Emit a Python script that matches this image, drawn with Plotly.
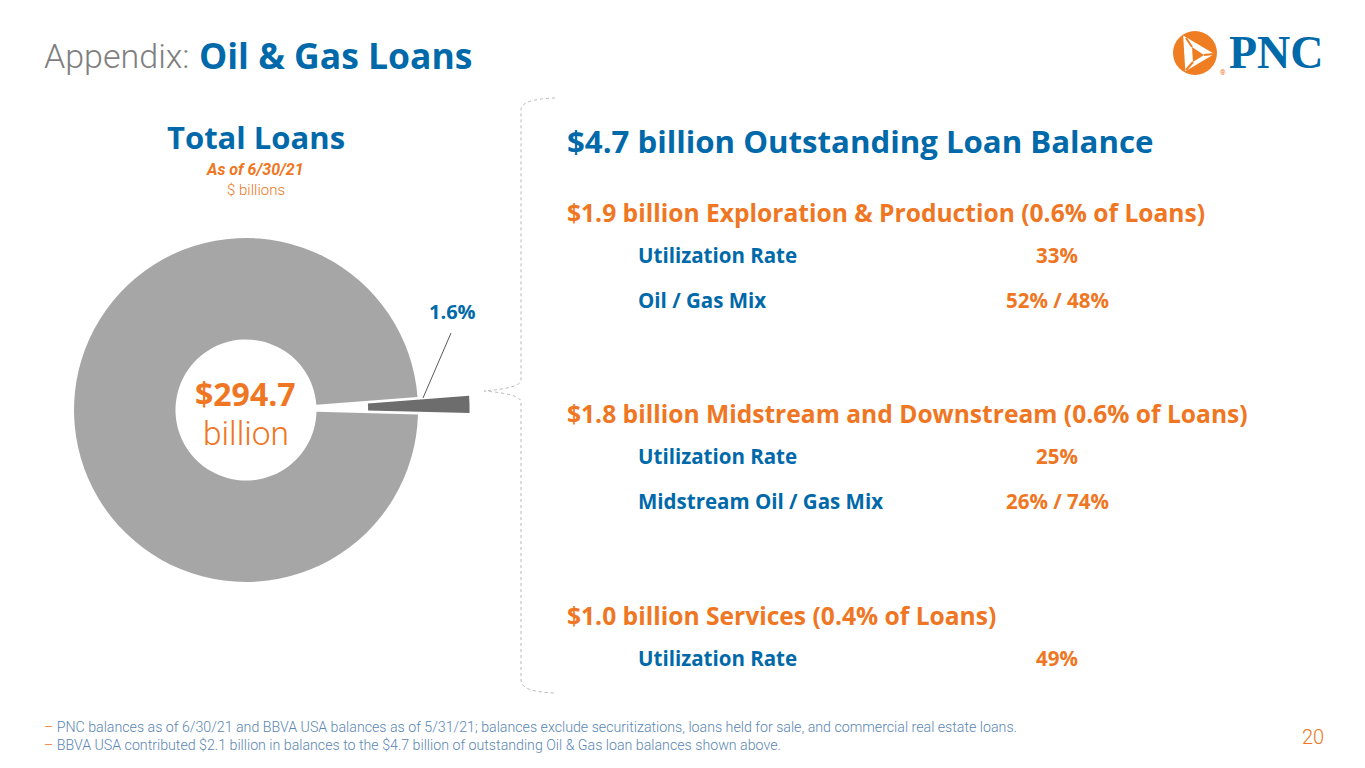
import plotly.graph_objects as go

W, H = 1365, 768

# ---- data ----
slice_labels = ["Oil & Gas Loans", "Other Loans"]
slice_values = [1.6, 98.4]          # % of total loans
slice_colors = ["#6d6d6d", "#a6a6a6"]
slice_pull = [0.3, 0.0]
total_loans_text = "$294.7"
slice_label_text = "1.6%"

segment_headers = [
    "$1.9 billion Exploration & Production (0.6% of Loans)",
    "$1.8 billion Midstream and Downstream (0.6% of Loans)",
    "$1.0 billion Services (0.4% of Loans)",
]
segment_rows = [
    [("Utilization Rate", "33%"), ("Oil / Gas Mix", "52% / 48%")],
    [("Utilization Rate", "25%"), ("Midstream Oil / Gas Mix", "26% / 74%")],
    [("Utilization Rate", "49%")],
]
footnotes = [
    "PNC balances as of 6/30/21 and BBVA USA balances as of 5/31/21; balances exclude securitizations, loans held for sale, and commercial real estate loans.",
    "BBVA USA contributed $2.1 billion in balances to the $4.7 billion of outstanding Oil & Gas loan balances shown above.",
]

BLUE = "#0069aa"
ORANGE = "#ef7622"
LIGHT = "Roboto"
BOLD = "Open Sans"


def px(x):
    return x / W


def py(y):
    return 1 - y / H


annotations = []


def ann(text, x, y, size, color, weight="normal", xanchor="left", style="normal", family=BOLD):
    annotations.append(dict(
        text=text, x=px(x), y=py(y), xref="paper", yref="paper",
        xanchor=xanchor, yanchor="middle", showarrow=False,
        font=dict(family=family, size=size, color=color, weight=weight, style=style),
    ))


fig = go.Figure()

# donut: centre (246, 410), outer radius 172 px; plotly shrinks by (1 + max pull)
cx, cy, r = 246, 410, 172
half = r * (1 + max(slice_pull))
fig.add_trace(go.Pie(
    labels=slice_labels, values=slice_values, sort=False,
    direction="clockwise", rotation=85.7, hole=0.41, pull=slice_pull,
    marker=dict(colors=slice_colors, line=dict(width=0)),
    textinfo="none", hoverinfo="label+percent", showlegend=False,
    domain=dict(x=[px(cx - half), px(cx + half)], y=[py(cy + half), py(cy - half)]),
))

# title
ann("Appendix:", 42, 56, 34, "#7f7f7f", weight=300, family=LIGHT)
ann("Oil & Gas Loans", 197, 55, 35.5, BLUE, weight="bold")

# left panel headings
ann("Total Loans", 256, 137, 31, BLUE, weight="bold", xanchor="center")
ann("As of 6/30/21", 255, 170, 16, ORANGE, weight="bold", xanchor="center", style="italic", family=LIGHT)
ann("$ billions", 256, 190, 15, ORANGE, weight=300, xanchor="center", family=LIGHT)

# donut centre
ann(total_loans_text, 245, 393, 32, ORANGE, weight="bold", xanchor="center")
ann("billion", 246, 433, 33.5, ORANGE, weight=300, xanchor="center", family=LIGHT)

# slice label and leader line
ann(slice_label_text, 452, 311, 20, BLUE, weight="bold", xanchor="center")

# right panel
ann("$4.7 billion Outstanding Loan Balance", 565, 141, 31.2, BLUE, weight="bold")
header_y = [212, 413, 615]
for hdr, rows, hy in zip(segment_headers, segment_rows, header_y):
    ann(hdr, 565, hy, 24.6, ORANGE, weight="bold")
    for i, (lab, val) in enumerate(rows):
        ry = hy + 43 + 45 * i
        ann(lab, 636, ry, 20.5, BLUE, weight="bold")
        ann(val, 1057, ry, 20.5, ORANGE, weight="bold", xanchor="center")

# footnotes
for i, fn in enumerate(footnotes):
    ann("<span style='color:%s'>–</span> %s" % (ORANGE, fn), 42, 727 + 18 * i, 14.2,
        "#5a86b3", weight=300, family=LIGHT)

ann("20", 1326, 737, 20, ORANGE, weight=300, xanchor="right", family=LIGHT)

# logo text
ann("PNC", 1227, 52, 46, BLUE, family="Liberation Serif", weight="bold")
ann("®", 1218, 73, 7, ORANGE, family=LIGHT)


def path(points, close=False):
    s = "M %f,%f " % (px(points[0][0]), py(points[0][1]))
    for p in points[1:]:
        s += "L %f,%f " % (px(p[0]), py(p[1]))
    if close:
        s += "Z"
    return s


def qpath(cmds):
    out = []
    for c in cmds:
        op = c[0]
        pts = c[1:]
        out.append(op + " " + " ".join("%f,%f" % (px(a), py(b)) for a, b in pts))
    return " ".join(out)


shapes = []
# leader line
shapes.append(dict(type="line", xref="paper", yref="paper",
                   x0=px(423), y0=py(398), x1=px(451), y1=py(333),
                   line=dict(color="#595959", width=1)))
# curly brace
brace = qpath([
    ("M", (555, 98)), ("Q", (521, 99), (521, 110)), ("L", (521, 380)),
    ("Q", (521, 388), (484, 391)), ("Q", (521, 394), (521, 402)),
    ("L", (521, 680)), ("Q", (521, 692), (555, 693)),
])
shapes.append(dict(type="path", xref="paper", yref="paper", path=brace,
                   line=dict(color="#b8b8b8", width=1, dash="dot")))
# logo circle
shapes.append(dict(type="circle", xref="paper", yref="paper",
                   x0=px(1173), x1=px(1217), y0=py(31), y1=py(75),
                   fillcolor="#ef7d22", line=dict(width=0)))
shapes.append(dict(type="path", xref="paper", yref="paper",
                   path=path([(1184, 37), (1213, 54), (1186, 70)], close=True),
                   fillcolor="white", line=dict(color="white", width=1.5)))
shapes.append(dict(type="path", xref="paper", yref="paper",
                   path=path([(1192, 47), (1204, 55), (1193, 62)], close=True),
                   fillcolor="#ef7d22", line=dict(width=0)))
for a, b in [((1192, 47), (1186, 38)), ((1204, 55), (1214, 54)), ((1193, 62), (1186, 70))]:
    shapes.append(dict(type="line", xref="paper", yref="paper",
                       x0=px(a[0]), y0=py(a[1]), x1=px(b[0]), y1=py(b[1]),
                       line=dict(color="#ef7d22", width=2)))

fig.update_layout(
    width=W, height=H, margin=dict(l=0, r=0, t=0, b=0),
    paper_bgcolor="white", plot_bgcolor="white",
    annotations=annotations, shapes=shapes,
    font=dict(family=BOLD),
)

fig.write_html("out.html", config={"displayModeBar": False},
               post_script="document.body.style.margin='0';")
